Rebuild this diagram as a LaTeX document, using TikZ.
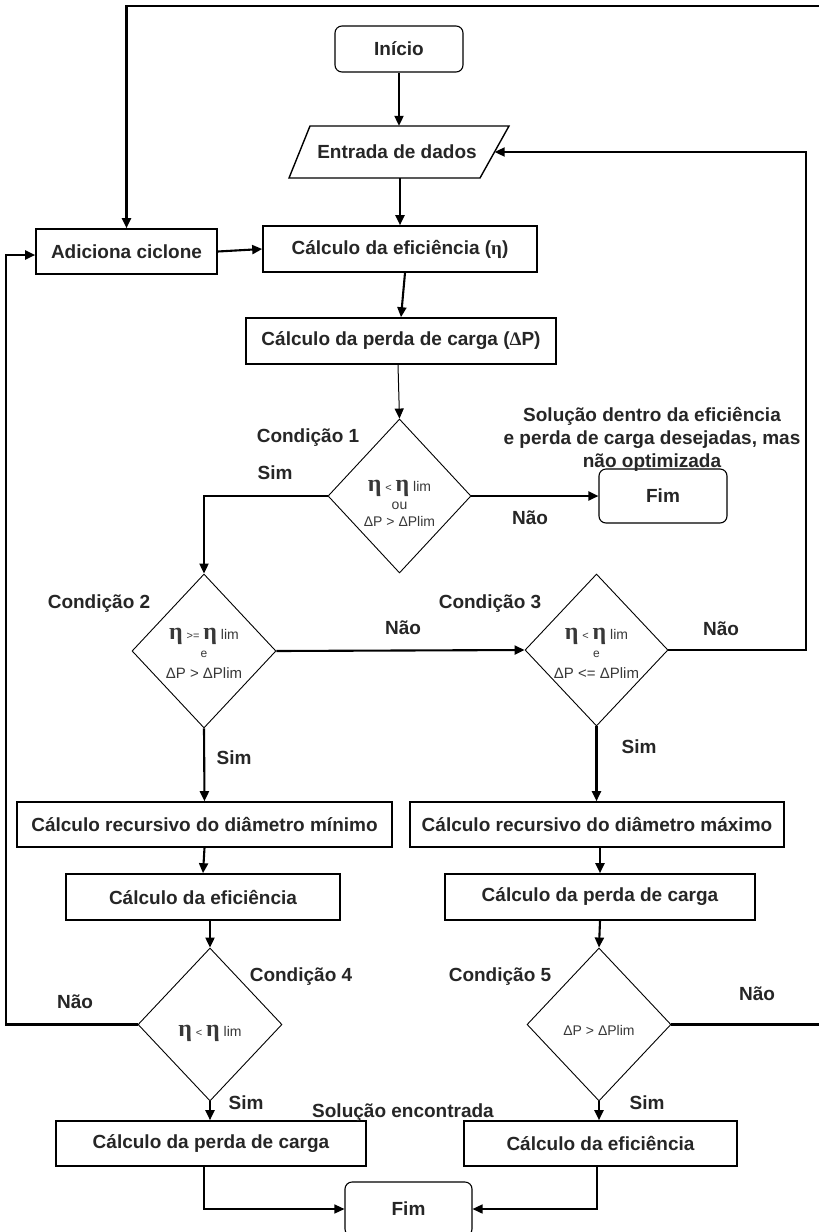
\documentclass[tikz,border=0pt]{standalone}
\usepackage{fontspec}
\setmainfont{Liberation Sans}
\newfontfamily\etafont{Liberation Serif}
\usetikzlibrary{shapes.geometric,arrows.meta}
\newcommand\bigeta{{\etafont\bfseries\fontsize{24}{24}\selectfont η}}
\newcommand\smallrel[1]{{\fontsize{11}{11}\selectfont #1}}
\newcommand\limtxt{{\fontsize{14}{14}\selectfont lim}}
\newcommand\dtxt[2]{\raisebox{#1}[0pt][0pt]{\begin{tabular}[t]{@{}c@{}}#2\end{tabular}}}
\begin{document}
\begin{tikzpicture}[x=1pt,y=-1pt,
  box/.style={draw, line width=1.6pt, rectangle, inner sep=0pt,
    font=\bfseries\fontsize{19}{22}\selectfont, text=black!85},
  rbox/.style={draw, line width=1.1pt, rounded corners=7pt, inner sep=0pt,
    font=\bfseries\fontsize{19}{22}\selectfont, text=black!85},
  dia/.style={draw, diamond, line width=0.9pt, inner sep=0pt, aspect=0.93,
    font=\fontsize{14}{16}\selectfont, text=black!78},
  lbl/.style={inner sep=0pt, font=\bfseries\fontsize{19}{22}\selectfont,
    text=black!85, text height=13.6pt, text depth=0pt},
  conn/.style={line width=2.1pt, -{Triangle[length=10pt,width=9pt]}},
  thinconn/.style={line width=1pt, -{Triangle[length=10pt,width=9pt]}}
]
\useasboundingbox (0,0) rectangle (819,1232);
\clip (0,0) rectangle (819,1232);
\fill[white] (0,0) rectangle (819,1232);

% nodes
\node[rbox, minimum width=128pt, minimum height=46pt] (inicio) at (399,49) {Início};
\node[inner sep=0pt, minimum width=195pt, minimum height=52pt,
  font=\bfseries\fontsize{19}{22}\selectfont, text=black!85] (entrada) at (397,152) {Entrada de dados};
\draw[line width=1.4pt] (289,178) -- (310,126) -- (509,126) -- (480,178) -- cycle;
\node[box, minimum width=274pt, minimum height=46pt] (efic) at (400,249) {Cálculo da eficiência ({\etafont η})};
\node[box, minimum width=181pt, minimum height=45pt] (adic) at (126.5,251.5) {Adiciona ciclone};
\node[box, minimum width=310pt, minimum height=46pt] (perda) at (401,341) {Cálculo da perda de carga ({\etafont Δ}P)};

\node[dia, minimum width=143pt, minimum height=154pt] (c1) at (399.5,496)
  {\dtxt{5pt}{\bigeta\ \smallrel{<} \bigeta\ \limtxt\\[2pt] ou\\[1pt] ΔP > ΔPlim}};
\node[rbox, minimum width=128pt, minimum height=54pt] (fim1) at (663,496) {Fim};

\node[dia, minimum width=144pt, minimum height=154pt] (c2) at (204,651)
  {\dtxt{12pt}{\bigeta\ \smallrel{>=} \bigeta\ \limtxt\\[2pt] {\fontsize{12}{12}\selectfont e}\\[5pt] {\fontsize{15}{15}\selectfont ΔP > ΔPlim}}};
\node[dia, minimum width=143pt, minimum height=152pt] (c3) at (596.5,650)
  {\dtxt{11pt}{\bigeta\ \smallrel{<} \bigeta\ \limtxt\\[2pt] {\fontsize{12}{12}\selectfont e}\\[5pt] {\fontsize{15}{15}\selectfont ΔP <= ΔPlim}}};

\node[box, minimum width=375pt, minimum height=45pt] (mini) at (204.5,824.5) {Cálculo recursivo do diâmetro mínimo};
\node[box, minimum width=374pt, minimum height=45pt] (maxi) at (597,824.5) {Cálculo recursivo do diâmetro máximo};
\node[box, minimum width=274pt, minimum height=46pt] (efic2) at (203,897) {Cálculo da eficiência};
\node[box, minimum width=310pt, minimum height=46pt] (perda2) at (600,897) {Cálculo da perda de carga};

\node[dia, minimum width=144pt, minimum height=153pt] (c4) at (210,1024.5)
  {\dtxt{-11.5pt}{\bigeta\ \smallrel{<} \bigeta\ \limtxt}};
\node[dia, minimum width=144pt, minimum height=153pt] (c5) at (599,1024.5)
  {\dtxt{-10.5pt}{ΔP > ΔPlim}};

\node[box, minimum width=310pt, minimum height=45pt] (perda3) at (211,1143.5) {Cálculo da perda de carga};
\node[box, minimum width=273pt, minimum height=45pt] (efic3) at (600.5,1143.5) {Cálculo da eficiência};
\node[rbox, minimum width=127pt, minimum height=54pt] (fim2) at (408.5,1209) {Fim};

% free-end coordinates
\coordinate (rloop) at (806,152);
\coordinate (lloop) at (6,255);
\coordinate (tr) at (824,6);
\coordinate (tl) at (126.5,6);

% connectors
\draw[conn] (inicio.south) -- (inicio.south |- entrada.north);
\draw[conn] (entrada.south -| efic.north) -- (efic.north);
\draw[conn] (adic.east) -- (efic.west);
\draw[conn] ([xshift=5pt]efic.south) -- (perda.north);
\draw[thinconn] ([xshift=-3pt]perda.south) -- (c1.north);
\draw[conn] (c1.west) -| (c2.north);
\draw[conn] (c1.east) -- (fim1.west);
\draw[conn] (c2.east) -- (c3.west);
\draw[conn] (c3.east) -| (rloop) -- (entrada.east);
\draw[conn] (c2.south) -- (mini.north);
\draw[conn] (c3.south) -- (c3.south |- maxi.north);
\draw[conn] (mini.south) -- (efic2.north);
\draw[conn] (c4.north |- efic2.south) -- (c4.north);
\draw[conn] (c4.west) -| (lloop) -- (lloop -| adic.west);
\draw[conn] (c4.south) -- (c4.south |- perda3.north);
\draw[conn] (perda2.north |- maxi.south) -- (perda2.north);
\draw[conn] (perda2.south) -- (c5.north);
\draw[conn] (c5.south) -- (c5.south |- efic3.north);
\draw[conn] (c5.east) -| (tr) -- (tl) -- (adic.north);
\draw[conn, line width=1.3pt] ([xshift=-7pt]perda3.south) |- (fim2.west);
\draw[conn, line width=1.6pt] ([xshift=-3.5pt]efic3.south) |- (fim2.east);

% labels
\node[lbl] (l1) at (308,436) {Condição 1};
\node[lbl] (s1) at (275,473) {Sim};
\node[lbl] (n1) at (530,518) {Não};
\node[lbl] (sol1) at (652,415) {Solução dentro da eficiência};
\node[lbl] (sol2) at (652,438) {e perda de carga desejadas, mas};
\node[lbl] (sol3) at (652,461) {não optimizada};
\node[lbl] (l2) at (99,602) {Condição 2};
\node[lbl] (n2) at (403,628) {Não};
\node[lbl] (s2) at (234,758) {Sim};
\node[lbl] (l3) at (490,602) {Condição 3};
\node[lbl] (n3) at (721,629) {Não};
\node[lbl] (s3) at (639,747) {Sim};
\node[lbl] (l4) at (301,975) {Condição 4};
\node[lbl] (n4) at (75,1002) {Não};
\node[lbl] (s4) at (246,1103) {Sim};
\node[lbl] (sole) at (403,1111) {Solução encontrada};
\node[lbl] (l5) at (500,975) {Condição 5};
\node[lbl] (n5) at (757,994) {Não};
\node[lbl] (s5) at (647,1103) {Sim};
\end{tikzpicture}
\end{document}
